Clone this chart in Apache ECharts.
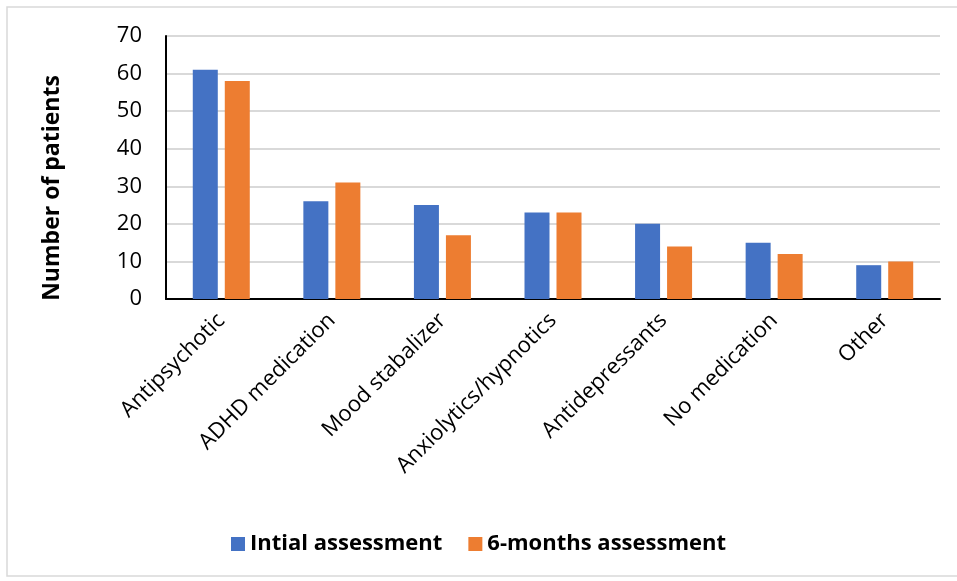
<!DOCTYPE html>
<html>
<head>
<meta charset="utf-8">
<script src="https://cdn.jsdelivr.net/npm/echarts@6/dist/echarts.min.js"></script>
<style>
  html, body { margin: 0; padding: 0; background: #fff; }
  #chart { width: 957px; height: 581px; }
</style>
</head>
<body>
<div id="chart"></div>
<script>
// data
const categories = ['Antipsychotic', 'ADHD medication', 'Mood stabalizer', 'Anxiolytics/hypnotics', 'Antidepressants', 'No medication', 'Other'];
const initialValues = [61, 26, 25, 23, 20, 15, 9];
const sixMonthValues = [58, 31, 17, 23, 14, 12, 10];
const seriesNames = ['Intial assessment', '6-months assessment'];
const yTitle = 'Number of patients';

const font = '"Open Sans", "Noto Sans", sans-serif';
const chart = echarts.init(document.getElementById('chart'));
chart.setOption({
    animation: false,
    textStyle: { fontFamily: font },
    graphic: [
        { type: 'rect', shape: { x: 7, y: 7, width: 960, height: 569 }, style: { fill: 'none', stroke: '#d9d9d9', lineWidth: 1.5 } },
        // y title sits lower than the plot middle in the original
        { type: 'text', x: 52, y: 188, rotation: Math.PI / 2,
          style: { text: yTitle, font: 'bold 23px ' + font, fill: '#000', textAlign: 'center', textVerticalAlign: 'middle' } }
    ],
    grid: { left: 166, right: 17, top: 36, bottom: 282 },
    legend: {
        bottom: 21, left: 'center', itemWidth: 14, itemHeight: 14, itemGap: 26, icon: 'rect',
        textStyle: { fontSize: 22, fontWeight: 'bold', color: '#000', fontFamily: font },
        data: seriesNames
    },
    xAxis: {
        type: 'category', data: categories,
        axisLine: { lineStyle: { color: '#000', width: 2 } },
        axisTick: { show: false },
        axisLabel: { rotate: 45, fontSize: 22, color: '#000', margin: 18, interval: 0 }
    },
    yAxis: {
        type: 'value', min: 0, max: 70, interval: 10,
        axisLine: { show: true, lineStyle: { color: '#000', width: 2 } },
        axisLabel: { fontSize: 22, color: '#000', margin: 24 },
        splitLine: { lineStyle: { color: '#d9d9d9', width: 2 } }
    },
    series: [
        { name: seriesNames[0], type: 'bar', data: initialValues, barWidth: 25, barGap: '28%', itemStyle: { color: '#4472c4' } },
        { name: seriesNames[1], type: 'bar', data: sixMonthValues, barWidth: 25, itemStyle: { color: '#ed7d31' } }
    ]
});
</script>
</body>
</html>
